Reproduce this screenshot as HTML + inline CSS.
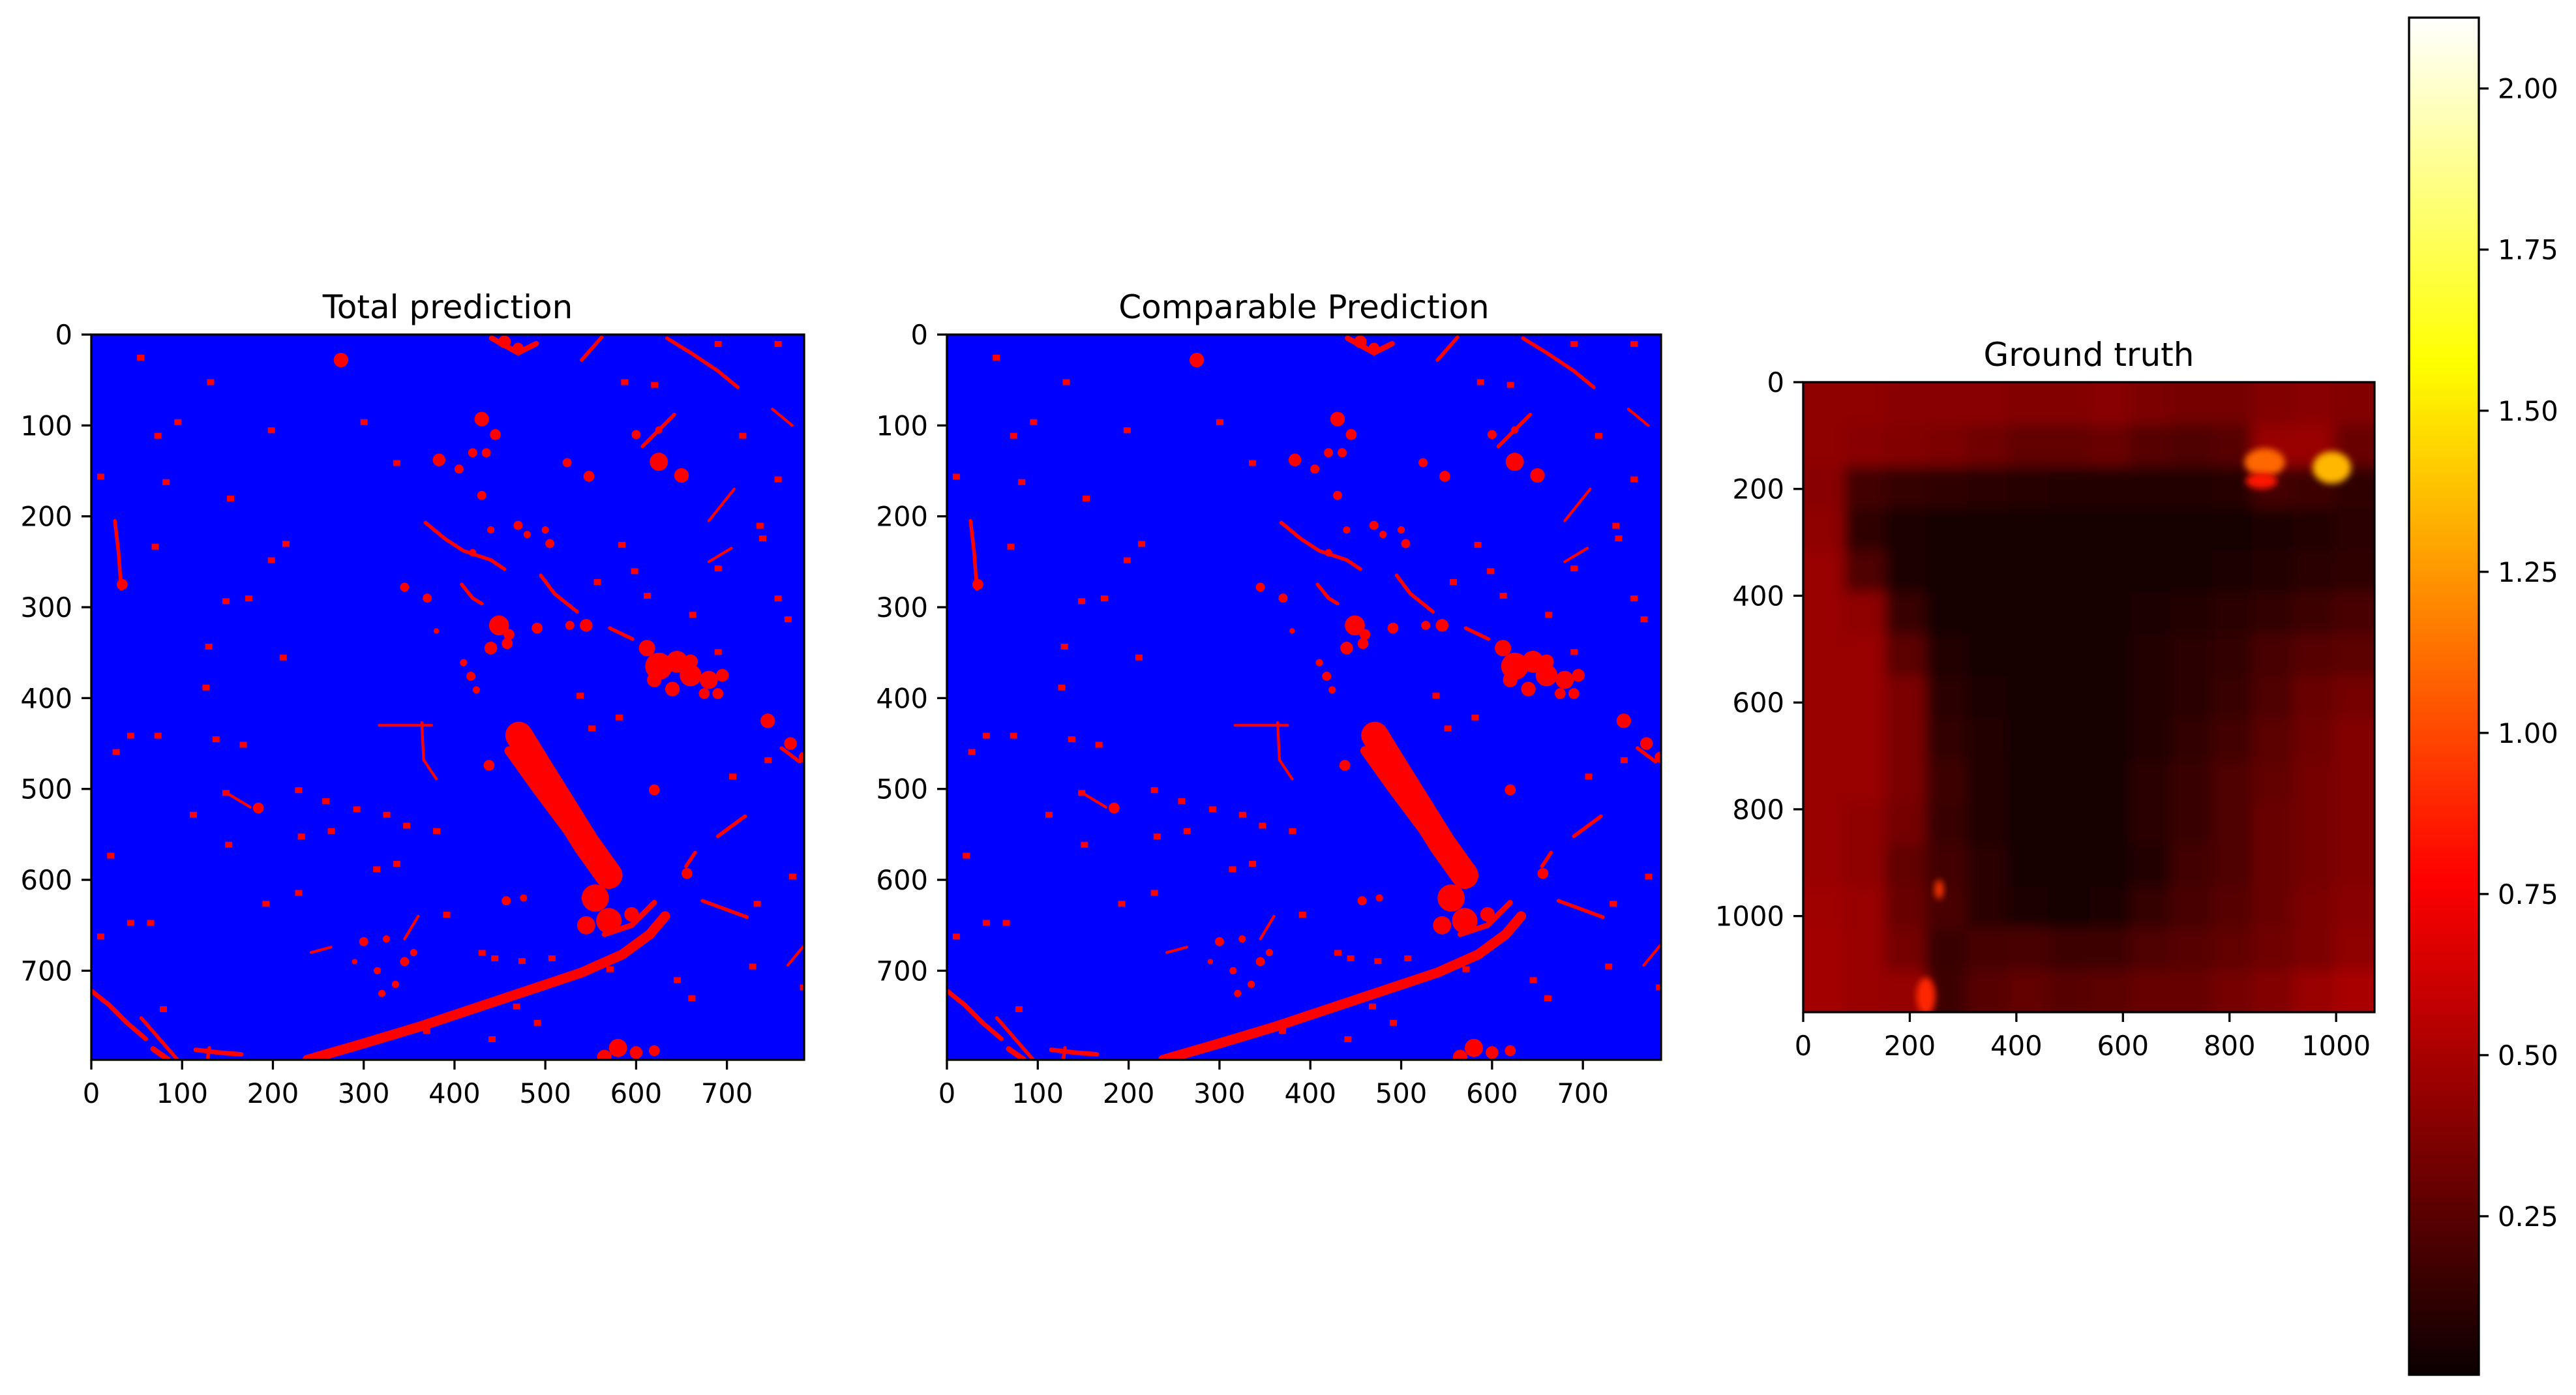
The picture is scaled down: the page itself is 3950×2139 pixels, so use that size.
<!DOCTYPE html>
<html><head><meta charset="utf-8">
<style>
html,body{margin:0;padding:0;background:#fff;}
svg{display:block;font-family:"DejaVu Sans","Liberation Sans",sans-serif;}
</style></head>
<body>
<svg id="fig" width="3950" height="2139" viewBox="0 0 3950 2139" xmlns="http://www.w3.org/2000/svg">
<defs>
<clipPath id="clipP1"><rect x="140" y="513" width="1093" height="1112"/></clipPath>
<clipPath id="clipP2"><rect x="1452" y="513" width="1095" height="1112"/></clipPath>
<clipPath id="clipGT"><rect x="2765" y="586" width="876" height="966"/></clipPath>
<filter id="soft" x="2665" y="486" width="1076" height="1166" filterUnits="userSpaceOnUse">
<feGaussianBlur stdDeviation="10"/>
</filter>
<filter id="soft2" x="-50%" y="-50%" width="200%" height="200%"><feGaussianBlur stdDeviation="5"/></filter>
<linearGradient id="hotGrad" x1="0" y1="1" x2="0" y2="0">
<stop offset="0" stop-color="#0b0000"/>
<stop offset="0.365" stop-color="#ff0000"/>
<stop offset="0.746" stop-color="#ffff00"/>
<stop offset="1" stop-color="#ffffff"/>
</linearGradient>
</defs>
</svg>
<script>
// ---------- data ----------
const predXTicks = [0,100,200,300,400,500,600,700];
const predYTicks = [0,100,200,300,400,500,600,700];
const gtXTicks = [0,200,400,600,800,1000];
const gtYTicks = [0,200,400,600,800,1000];
const cbTicks = [0.25,0.50,0.75,1.00,1.25,1.50,1.75,2.00];
const cbMin = 0.004, cbMax = 2.11;
// red linear features in prediction (data coords) and stroke widths
const predLines = [
 [[238,798],[300,780],[360,762],[420,742],[480,722],[540,702],[585,682],[615,660],[632,640]],
 [[0,722],[20,738],[40,758],[60,775]],
 [[68,786],[85,798]],
 [[115,787],[140,790],[165,792]],
 [[471,441],[495,480],[520,520],[545,560],[570,595]],
 [[368,207],[390,225],[410,238],[440,248],[455,258]],
 [[495,265],[510,285],[535,305]],
 [[408,275],[420,290],[430,296]],
 [[634,4],[660,20],[690,40],[712,58]],
 [[680,205],[708,170]],
 [[680,250],[705,235]],
 [[750,82],[772,100]],
 [[607,123],[642,88]],
 [[540,28],[562,3]],
 [[317,430],[375,430]],
 [[364,427],[366,468],[380,489]],
 [[26,205],[30,240],[33,280]],
 [[690,552],[720,530]],
 [[673,623],[722,641]],
 [[767,694],[786,671]],
 [[571,323],[596,335]],
 [[242,680],[264,674]],
 [[441,4],[470,20],[490,10]],
 [[55,752],[75,775],[95,798]],
 [[130,785],[128,798]],
 [[460,458],[490,500],[520,540],[550,580]],
 [[620,625],[595,650],[565,660]],
 [[345,665],[360,640]],
 [[150,505],[175,520]],
 [[655,585],[665,570]],
 [[760,455],[780,470]]
];
const predLineW = [11,5,6,5,30,4,4,4,4,3,3,3,4,4,3,3,4,4,4,3,4,3,6,4,4,10,6,3,3,4,4];
// blobs [x, y, r]
const predBlobs = [
 [275,28,8],[430,93,8],[445,110,6],[435,130,5],[449,320,11],[458,340,6],[383,138,7],[405,148,5],[420,130,5],
 [625,140,10],[650,155,8],[600,110,5],[625,105,4],
 [612,345,9],[625,365,15],[645,360,12],[660,375,12],[680,380,10],[695,375,7],[640,390,8],[675,395,6],[620,380,8],
 [745,425,8],[770,450,7],[785,465,6],[438,474,6],[620,501,6],[184,521,6],
 [430,177,5],[440,215,4],[420,240,4],[470,210,5],[480,220,4],[500,215,4],[505,230,5],
 [524,141,5],[548,156,6],[527,320,5],[491,323,6],[545,320,7],
 [410,361,4],[418,376,5],[424,391,4],[380,326,3],[457,623,5],[476,620,4],
 [300,668,5],[325,665,4],[345,690,5],[315,700,4],[335,715,4],[355,680,4],[290,690,3],[320,725,4],
 [656,593,6],[580,785,10],[600,790,7],[620,788,6],[565,795,8],
 [555,620,15],[570,645,14],[545,650,10],[595,638,8],[34,275,6],
 [480,460,10],[500,490,10],[520,515,9],
 [455,8,7],[470,15,6],[440,345,7],[460,330,6],[370,290,5],[345,278,5],[660,360,8],[690,395,6]
];
// small dots [x, y]
const predDots = [
 [54,25],[131,52],[95,96],[198,105],[300,96],[336,141],[73,111],[10,156],[82,162],[153,180],[214,230],[198,248],
 [70,233],[173,290],[148,293],[129,343],[211,355],[126,388],[43,441],[73,441],[137,445],[167,451],[27,459],
 [148,504],[112,528],[228,501],[258,513],[292,522],[325,528],[347,540],[380,546],[231,552],[264,546],[151,561],
 [21,573],[228,614],[192,626],[314,588],[336,582],[391,638],[430,680],[444,686],[474,689],[507,686],[571,698],
 [645,710],[661,730],[728,695],[784,718],[468,739],[491,757],[441,775],[369,766],[79,742],[10,662],[43,647],
 [65,647],[733,626],[772,596],[706,486],[745,468],[581,421],[538,397],[551,433],[584,231],[557,272],[598,260],
 [612,287],[662,308],[690,349],[756,290],[767,313],[739,224],[756,159],[717,111],[587,52],[620,55],[690,10],
 [756,10],[690,257],[736,210]
];
// ground-truth coarse grid values (rows top->bottom, 14 columns over 0..1072, 15 rows over 0..1180)
const gtRows = [
 [.42,.42,.40,.40,.40,.38,.38,.40,.36,.34,.34,.38,.40,.38],
 [.42,.40,.38,.36,.32,.28,.28,.30,.24,.22,.24,.45,.45,.30],
 [.40,.18,.14,.12,.11,.09,.08,.08,.08,.08,.09,.18,.16,.12],
 [.42,.12,.06,.05,.05,.05,.04,.04,.04,.04,.05,.06,.08,.10],
 [.45,.22,.06,.05,.05,.05,.04,.04,.04,.05,.06,.08,.10,.12],
 [.45,.42,.15,.05,.05,.04,.04,.05,.06,.08,.10,.13,.16,.20],
 [.45,.45,.26,.08,.05,.04,.04,.05,.08,.10,.13,.20,.24,.26],
 [.45,.45,.36,.10,.06,.04,.04,.05,.08,.10,.15,.22,.30,.34],
 [.45,.45,.36,.13,.07,.05,.04,.05,.08,.13,.18,.26,.32,.38],
 [.45,.45,.36,.16,.08,.05,.04,.05,.10,.15,.22,.28,.34,.38],
 [.45,.42,.34,.15,.08,.05,.04,.05,.10,.15,.22,.30,.34,.38],
 [.45,.42,.28,.18,.10,.05,.04,.05,.08,.18,.22,.30,.34,.38],
 [.47,.45,.30,.20,.10,.06,.05,.06,.14,.20,.24,.30,.36,.40],
 [.48,.45,.34,.15,.19,.20,.16,.16,.22,.24,.28,.32,.36,.42],
 [.48,.45,.44,.16,.24,.28,.24,.26,.29,.29,.34,.38,.45,.50]
];
// bright hot spots [x, y, rx, ry, value]
const gtSpots = [[866,150,38,26,1.1],[992,160,36,30,1.35],[230,1150,18,35,0.9],[255,950,8,18,0.95],[860,185,30,15,0.85]];

// ---------- geometry ----------
const NS = "http://www.w3.org/2000/svg";
const svg = document.getElementById('fig');
function mk(tag, attrs, parent){const e=document.createElementNS(NS,tag);for(const k in attrs)e.setAttribute(k,attrs[k]);(parent||svg).appendChild(e);return e;}
function hot(v){let t=(v-cbMin)/(cbMax-cbMin);t=Math.max(0,Math.min(1,t));
 const r=Math.min(1,0.0416+t/0.365*(1-0.0416)), g=Math.max(0,Math.min(1,(t-0.365)/0.381)), b=Math.max(0,Math.min(1,(t-0.746)/0.254));
 return `rgb(${Math.round(r*255)},${Math.round(g*255)},${Math.round(b*255)})`;}

const panels = [
 {name:'total-prediction', title:'Total prediction', x0:140, y0:513, w:1093, h:1112, sx:1093/785, sy:1112/798, clip:'clipP1'},
 {name:'comparable-prediction', title:'Comparable Prediction', x0:1452, y0:513, w:1095, h:1112, sx:1095/786, sy:1112/798, clip:'clipP2'}
];

function axesTicks(g, P, xt, yt, prefix){
 xt.forEach(v=>{const x=P.x0+v*P.sx;
  mk('line',{x1:x,y1:P.y0+P.h,x2:x,y2:P.y0+P.h+15,stroke:'#000','stroke-width':3.3},g);
  const t=mk('text',{x:x,y:P.y0+P.h+66,'text-anchor':'middle','font-size':41.7,fill:'#000'},g);t.textContent=v;
  
  
 });
 yt.forEach(v=>{const y=P.y0+v*P.sy;
  mk('line',{x1:P.x0-15,y1:y,x2:P.x0,y2:y,stroke:'#000','stroke-width':3.3},g);
  const t=mk('text',{x:P.x0-29,y:y+15,'text-anchor':'end','font-size':41.7,fill:'#000'},g);t.textContent=v;
  
  
 });
}

panels.forEach(P=>{
 const g=mk('g',{});
 
 
 const img=mk('g',{'clip-path':`url(#${P.clip})`},g);
 
 
 mk('rect',{x:P.x0,y:P.y0,width:P.w,height:P.h,fill:'#0000ff'},img);
 const X=v=>P.x0+v*P.sx, Y=v=>P.y0+v*P.sy;
 predLines.forEach((pts,i)=>{
  const p=mk('polyline',{points:pts.map(q=>X(q[0])+','+Y(q[1])).join(' '),fill:'none',stroke:'#ff0000','stroke-width':predLineW[i]*P.sx,'stroke-linecap':'round','stroke-linejoin':'round'},img);
  
  
 });
 predBlobs.forEach(b=>{
  const c=mk('circle',{cx:X(b[0]),cy:Y(b[1]),r:b[2]*P.sx,fill:'#ff0000'},img);
  
  
 });
 predDots.forEach(d=>{
  const c=mk('rect',{x:X(d[0])-5,y:Y(d[1])-4,width:11,height:9,fill:'#ff0000'},img);
  
  
 });
 const fr=mk('rect',{x:P.x0,y:P.y0,width:P.w,height:P.h,fill:'none',stroke:'#000','stroke-width':3.3},g);
 
 
 axesTicks(g,P,predXTicks,predYTicks,P.name);
 const t=mk('text',{x:P.x0+P.w/2,y:P.y0-25,'text-anchor':'middle','font-size':50,fill:'#000'},g);t.textContent=P.title;
 
 
});

// ground truth
(function(){
 const P={x0:2765,y0:586,w:876,h:966,sx:876/1072,sy:966/1180};
 const g=mk('g',{});
 
 
 const clip=mk('g',{'clip-path':'url(#clipGT)'},g);
 const img=mk('g',{filter:'url(#soft)'},clip);
 
 
 const nr=gtRows.length, nc=gtRows[0].length, cw=1072/nc, ch=1180/nr, pad=60;
 gtRows.forEach((row,r)=>row.forEach((v,c)=>{
  let x=P.x0+c*cw*P.sx, y=P.y0+r*ch*P.sy, w=cw*P.sx+1, h=ch*P.sy+1;
  if(c===0){x-=pad;w+=pad;} if(c===nc-1){w+=pad;}
  if(r===0){y-=pad;h+=pad;} if(r===nr-1){h+=pad;}
  const e=mk('rect',{x:x,y:y,width:w,height:h,fill:hot(v)},img);
  
  
 }));
 gtSpots.forEach(s=>{
  const e=mk('ellipse',{cx:P.x0+s[0]*P.sx,cy:P.y0+s[1]*P.sy,rx:s[2]*P.sx,ry:s[3]*P.sy,fill:hot(s[4]),filter:'url(#soft2)'},clip);
  
  
 });
 const fr=mk('rect',{x:P.x0,y:P.y0,width:P.w,height:P.h,fill:'none',stroke:'#000','stroke-width':3.3},g);
 
 
 axesTicks(g,P,gtXTicks,gtYTicks,'ground-truth');
 const t=mk('text',{x:P.x0+P.w/2,y:P.y0-25,'text-anchor':'middle','font-size':50,fill:'#000'},g);t.textContent='Ground truth';
 
 
})();

// colorbar
(function(){
 const x0=3694,x1=3801,yTop=27,yBot=2108;
 const g=mk('g',{});
 
 
 const r=mk('rect',{x:x0,y:yTop,width:x1-x0,height:yBot-yTop,fill:'url(#hotGrad)',stroke:'#000','stroke-width':3.3},g);
 
 
 const Y=v=>yBot-(v-cbMin)/(cbMax-cbMin)*(yBot-yTop);
 cbTicks.forEach(v=>{
  mk('line',{x1:x1,y1:Y(v),x2:x1+15,y2:Y(v),stroke:'#000','stroke-width':3.3},g);
  const t=mk('text',{x:3830,y:Y(v)+15,'font-size':41.7,fill:'#000'},g);t.textContent=v.toFixed(2);
  
  
 });
})();
</script>
</body></html>
